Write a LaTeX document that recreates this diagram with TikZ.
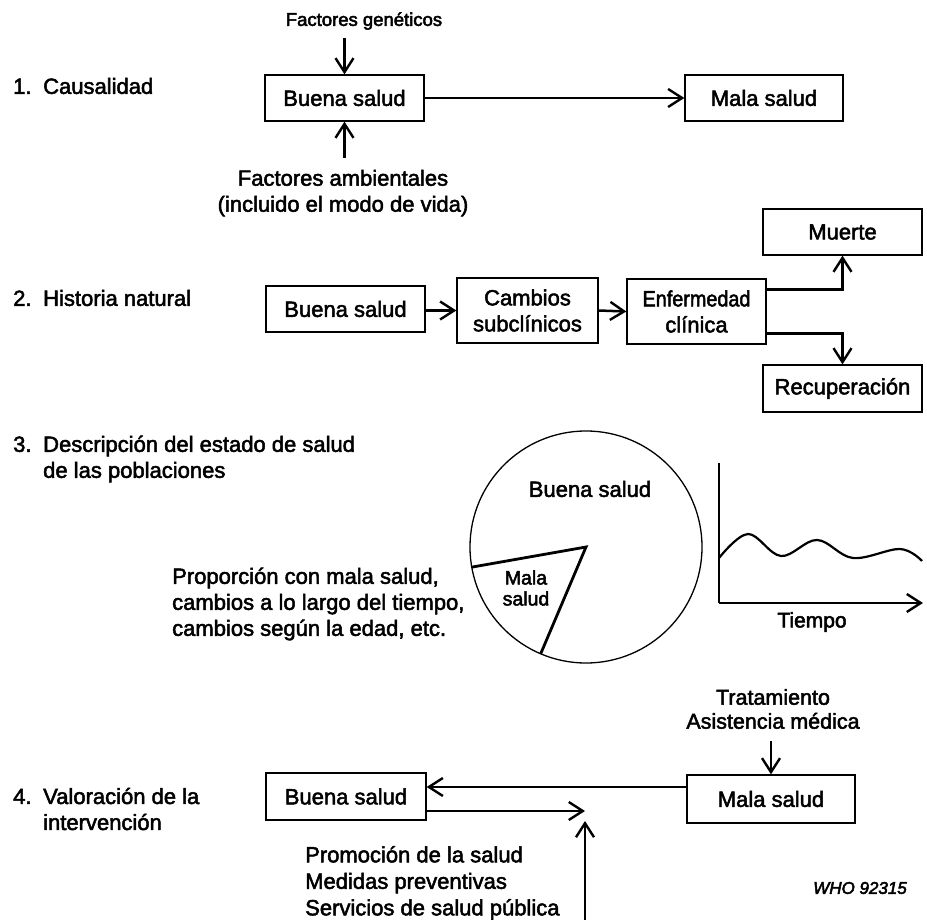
\documentclass[tikz,border=0pt]{standalone}
\usepackage{fontspec}
\setmainfont{Liberation Sans}
\usetikzlibrary{arrows.meta,calc}
% slightly heavier strokes for the lettering (fill + stroke rendering)
\newcommand{\heavyink}{\special{pdf:literal direct 2 Tr 0.5 w}}

\begin{document}
\begin{tikzpicture}[x=1pt,y=-1pt,
  every node/.style={font=\fontsize{22}{26}\selectfont\heavyink, inner sep=0pt},
  box/.style={draw, line width=1.3pt, align=center},
  tip/.style={-{Straight Barb[length=14pt,width=18pt,line width=2.4pt]}},
  arr/.style={line width=2.5pt, tip},
  lbl/.style={align=center},
  sect/.style={anchor=west, align=left},
]
\useasboundingbox (0,0) rectangle (927,920);

% ---------- 1. Causalidad ----------
\node[sect] (s1) at (13,86) {\makebox[30pt][l]{1.}Causalidad};
\node[box, minimum width=159pt, minimum height=46pt] (B1) at (344.5,98) {Buena salud};
\node[box, minimum width=158pt, minimum height=46pt] (M1) at (764,98) {Mala salud};
\node[lbl, font=\fontsize{18.5}{22}\selectfont\heavyink] (fg) at (364,21) {Factores genéticos};
\node[lbl] (fa) at (343,193) {Factores ambientales\\(incluido el modo de vida)};
\coordinate (fgA) at (344.5,38);
\coordinate (faA) at (344.5,158);
\draw[arr] (fgA) -- (B1.north);
\draw[arr] (faA) -- (B1.south);
\draw[arr] (B1.east) -- (M1.west);

% ---------- 2. Historia natural ----------
\node[sect] (s2) at (13,298) {\makebox[30pt][l]{2.}Historia natural};
\node[box, minimum width=159pt, minimum height=46pt] (B2) at (345.5,309) {Buena salud};
\node[box, minimum width=141pt, minimum height=65pt] (C2) at (527.5,310.5) {Cambios\\subclínicos};
\node[box, minimum width=139pt, minimum height=65pt] (E2) at (696.5,311.5) {\scalebox{0.9}[1]{Enfermedad}\\clínica};
\node[box, minimum width=159pt, minimum height=46pt] (Mu2) at (842.5,232) {Muerte};
\node[box, minimum width=159pt, minimum height=47pt] (R2) at (842.5,388.5) {Recuperación};
\draw[arr] (B2.east |- C2) -- (C2.west);
\draw[arr] (C2.east) -- (E2.west);
\draw[arr] ($(E2.north east)+(0,11)$) -| (Mu2.south);
\draw[arr] ($(E2.south east)+(0,-11)$) -| (R2.north);

% ---------- 3. Descripción ----------
\node[sect] (s3) at (13,459) {\makebox[30pt][l]{3.}Descripción del estado de salud\\\hspace*{30pt}de las poblaciones};
\coordinate (P) at (586,547);
\draw[line width=1.3pt] (P) circle[radius=116pt];
\draw[line width=2.8pt, line join=miter] ($(P)+(190:116pt)$) -- (P) -- ($(P)+(247:116pt)$);
\node[lbl] (pb) at (590,489) {Buena salud};
\node[lbl, font=\fontsize{19.5}{21}\selectfont\heavyink] (pm) at (526,588) {Mala\\salud};
\node[sect] (prop) at (172,604) {Proporción con mala salud,\\cambios a lo largo del tiempo,\\cambios según la edad, etc.};

\coordinate (O) at (719,603);
\coordinate (Ytop) at (719,463);
\coordinate (Xend) at (923,603);
\draw[line width=1.3pt] (Ytop) -- (O);
\draw[line width=2.8pt, tip] (O) -- (Xend);
\draw[line width=2.2pt] plot[smooth, tension=0.6] coordinates
  {(719,558) (748,534) (781,556) (817,540) (853,558) (900,549) (922,561)};
\node[lbl, font=\fontsize{21}{24}\selectfont\heavyink] (t) at (812,622) {Tiempo};

% ---------- 4. Valoración ----------
\node[sect] (s4) at (13,809) {\makebox[30pt][l]{4.}Valoración de la\\\hspace*{30pt}intervención};
\node[box, minimum width=160pt, minimum height=47pt] (B4) at (346,796.5) {Buena salud};
\node[box, minimum width=168pt, minimum height=48pt] (M4) at (771,799) {Mala salud};
\node[lbl, font=\fontsize{21.5}{24}\selectfont\heavyink] (tr) at (773,709) {Tratamiento\\Asistencia médica};
\coordinate (trA) at (771,741);
\draw[arr] (trA) -- (M4.north);
\coordinate (u4) at (0,787);
\draw[arr] (M4.west |- u4) -- (B4.east |- u4);
\coordinate (l4) at (585,811);
\draw[arr] (B4.east |- l4) -- (l4);
\coordinate (v4) at (585,920);
\coordinate (v4t) at (585,821);
\draw[arr] (v4) -- (v4t);
\node[sect, font=\fontsize{22}{26.5}\selectfont\heavyink] (pr) at (305,883) {Promoción de la salud\\Medidas preventivas\\Servicios de salud pública};
\node[anchor=east, font=\fontsize{17}{20}\selectfont\itshape\heavyink] (who) at (907,888) {WHO 92315};
\end{tikzpicture}
\end{document}
